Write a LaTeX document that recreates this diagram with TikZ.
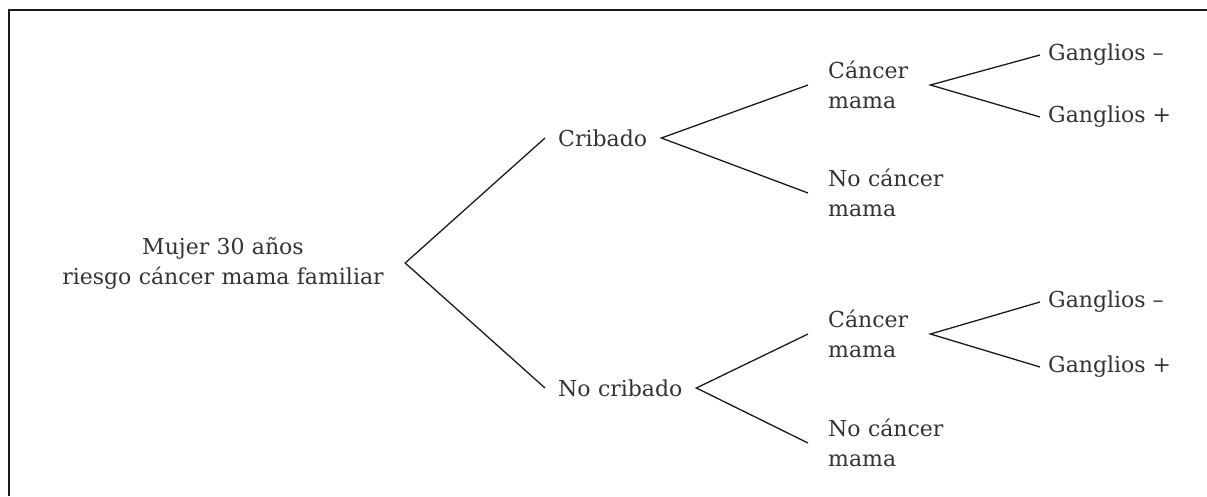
\documentclass[tikz,border=0pt]{standalone}
\usepackage{fontspec}
\setmainfont{DejaVu Serif}
\definecolor{txt}{HTML}{333333}
\definecolor{ln}{HTML}{1A1A1A}
\begin{document}
\begin{tikzpicture}[x=1pt,y=-1pt,
  lbl/.style={font=\fontsize{22}{30}\selectfont, text=txt, inner ysep=0pt, align=left, anchor=west},
  branch/.style={draw=ln, line width=1.3pt},
  frame/.style={draw=ln, line width=1.5pt}]
\useasboundingbox (0,0) rectangle (1207,496);
\draw[frame] (9,496) -- (9,10) -- (1207,10);

\node[lbl, anchor=center, align=center, text width=332pt, inner xsep=16pt] (root) at (223,263) {Mujer 30 años\\riesgo cáncer mama familiar};

\node[lbl, text width=90pt, inner xsep=13pt] (cr) at (545,138) {Cribado};
\node[lbl, text width=125pt, inner xsep=13pt] (nc) at (545,388) {No cribado};

\node[lbl, text width=82pt, inner xsep=20pt] (cm1) at (808,85) {Cáncer\\mama};
\node[lbl, text width=130pt, inner xsep=20pt] (ncm1) at (808,193) {No cáncer\\mama};
\node[lbl, inner xsep=8pt] (gm1) at (1040,55) {Ganglios –};
\node[lbl, inner xsep=8pt] (gp1) at (1040,117) {Ganglios +};

\node[lbl, text width=82pt, inner xsep=20pt] (cm2) at (808,334) {Cáncer\\mama};
\node[lbl, text width=130pt, inner xsep=20pt] (ncm2) at (808,443) {No cáncer\\mama};
\node[lbl, inner xsep=8pt] (gm2) at (1040,302) {Ganglios –};
\node[lbl, inner xsep=8pt] (gp2) at (1040,367) {Ganglios +};

\draw[branch] (cr.west) -- (root.east) -- (nc.west);
\draw[branch] (cm1.west) -- (cr.east) -- (ncm1.west);
\draw[branch] (cm2.west) -- (nc.east) -- (ncm2.west);
\draw[branch] (gm1.west) -- (cm1.east) -- (gp1.west);
\draw[branch] (gm2.west) -- (cm2.east) -- (gp2.west);
\end{tikzpicture}
\end{document}
